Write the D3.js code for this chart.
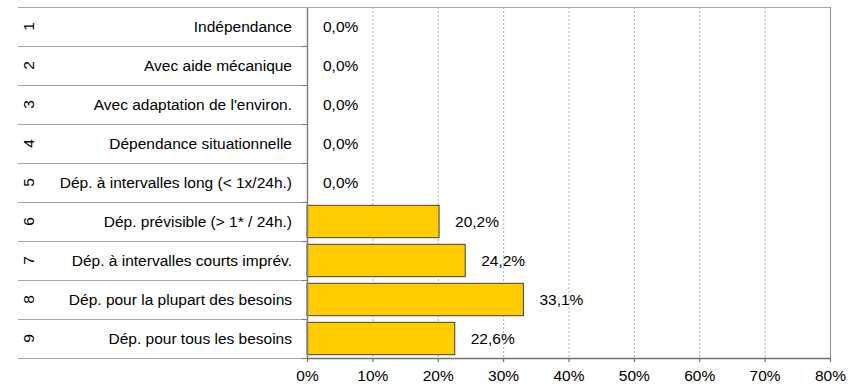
<!DOCTYPE html>
<html><head><meta charset="utf-8">
<script src="https://cdn.jsdelivr.net/npm/d3@7"></script>
<style>body{margin:0;background:#fff}svg{display:block}text{font-family:"Liberation Sans",Arial,sans-serif;fill:#000}</style>
</head><body><svg id="c" width="854" height="386"></svg>
<script>
const codes = ["1","2","3","4","5","6","7","8","9"];
const categories = ["Indépendance","Avec aide mécanique","Avec adaptation de l'environ.","Dépendance situationnelle","Dép. à intervalles long (< 1x/24h.)","Dép. prévisible (> 1* / 24h.)","Dép. à intervalles courts imprév.","Dép. pour la plupart des besoins","Dép. pour tous les besoins"];
const values = [0.0,0.0,0.0,0.0,0.0,20.2,24.2,33.1,22.6];
const ticks = [0,10,20,30,40,50,60,70,80];

(function(){
const svg = d3.select("#c");
const pL = 307, pR = 830, pT = 7, pB = 358, tableLeft = 18;
const fs = 15.5;
const x = d3.scaleLinear().domain([0,80]).range([pL,pR]);
const y = d3.scaleBand().domain(codes).range([pT,pB]).paddingInner(0.17).paddingOuter(0.085);
const band = (pB-pT)/codes.length;
const yb = d3.scaleBand().domain(codes).range([pT,pB]);

svg.append("g").selectAll("line").data(ticks.filter(t=>t>0&&t<80)).join("line")
  .attr("x1",d=>x(d)+0.5).attr("x2",d=>x(d)+0.5).attr("y1",pT).attr("y2",pB)
  .attr("stroke","#b0b0b0").attr("stroke-dasharray","2,2");

const seps = d3.range(codes.length+1).map(i=>pT+i*band);
svg.append("g").selectAll("line").data(seps).join("line")
  .attr("x1",tableLeft).attr("x2",d=>d===pT?pR:pL).attr("y1",d=>Math.round(d)+0.5).attr("y2",d=>Math.round(d)+0.5)
  .attr("stroke","#a8a8a8").attr("stroke-width",1.2);
svg.append("line").attr("x1",pR+0.5).attr("x2",pR+0.5).attr("y1",pT).attr("y2",pB).attr("stroke","#888");

svg.append("g").selectAll("rect").data(values).join("rect")
  .attr("x",x(0)).attr("y",(d,i)=>y(codes[i]))
  .attr("width",d=>x(d)-x(0)).attr("height",y.bandwidth())
  .attr("fill","#FFCC00").attr("stroke",d=>d>0?"#404040":"none").attr("stroke-width",1);

svg.append("g").selectAll("text").data(values).join("text")
  .attr("x",d=>x(d)+16).attr("y",(d,i)=>yb(codes[i])+yb.bandwidth()/2).attr("dy","0.36em")
  .attr("font-size",fs).text(d=>d.toFixed(1).replace(".",",")+"%");

svg.append("g").selectAll("text").data(categories).join("text")
  .attr("x",292).attr("y",(d,i)=>yb(codes[i])+yb.bandwidth()/2).attr("dy","0.36em")
  .attr("text-anchor","end").attr("font-size",fs).text(d=>d);

svg.append("g").selectAll("text").data(codes).join("text")
  .attr("transform",d=>`translate(28.5,${yb(d)+yb.bandwidth()/2}) rotate(-90)`)
  .attr("text-anchor","middle").attr("dy","0.36em").attr("font-size",fs).text(d=>d);

const ya = svg.append("g").attr("transform",`translate(${pL},0)`)
  .call(d3.axisLeft(yb).tickValues([]).tickSizeOuter(0));
ya.select(".domain").attr("stroke","#808080").attr("stroke-width",1.5);
svg.append("g").selectAll("line").data(seps.slice(1)).join("line")
  .attr("x1",pL-5).attr("x2",pL).attr("y1",d=>Math.round(d)+0.5).attr("y2",d=>Math.round(d)+0.5)
  .attr("stroke","#808080").attr("stroke-width",1.2);

const xa = svg.append("g").attr("transform",`translate(0,${pB})`)
  .call(d3.axisBottom(x).tickValues(ticks).tickSize(4).tickSizeOuter(0).tickPadding(8).tickFormat(d=>d+"%"));
xa.select(".domain").attr("stroke","#707070").attr("stroke-width",1.5);
xa.selectAll(".tick line").attr("stroke","#707070").attr("stroke-width",1.2);
xa.selectAll(".tick text").attr("font-size",fs).attr("font-family","Liberation Sans, Arial, sans-serif").attr("fill","#000");
})();
</script></body></html>
